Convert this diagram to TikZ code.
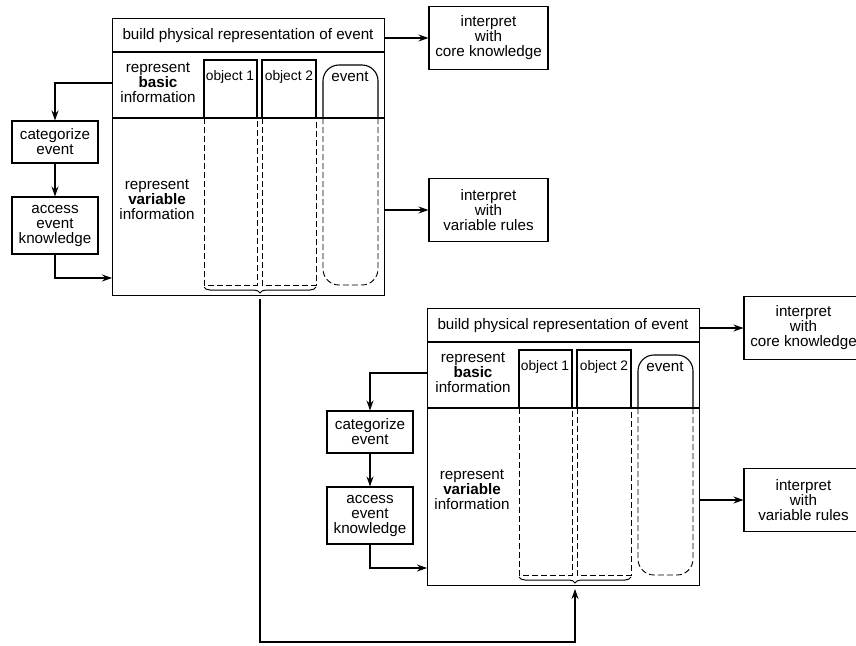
\documentclass[tikz,border=0pt]{standalone}
\usepackage{fontspec}
\setmainfont{Liberation Sans}
\usetikzlibrary{arrows.meta,decorations.pathreplacing}
\tikzset{
	>={Stealth[length=10pt,width=7pt]},
	every node/.style={font=\fontsize{15.2}{15}\selectfont,align=center,inner sep=0pt},
	stepbox/.style={draw,minimum width=86pt},
	rulebox/.style={draw,minimum width=119pt,minimum height=63pt},
	objlabel/.style={font=\fontsize{13.8}{15}\selectfont},
	dashcol/.style={line width=0.9pt,dash pattern=on 6pt off 3pt},
}
\begin{document}
\begin{tikzpicture}[x=1pt,y=-1pt,line width=1.1pt]
	\useasboundingbox (0,0) rectangle (856,645);
	\foreach \b/\dx/\dy in {a/0/0,b/315/290}{
	\begin{scope}[shift={(\dx,\dy)}]
		\node[draw,minimum width=272pt,minimum height=277pt,anchor=north west] (\b-main) at (112,18) {};
		\draw (112,52) -- (384,52);
		\draw (112,118) -- (384,118);
		\node (\b-title) at (248,36) {build physical representation of event};
		\node (\b-basic) at (158,83) {represent\\\textbf{basic}\\information};
		\node (\b-varinfo) at (157,200) {represent\\\textbf{variable}\\information};
		% object columns and event column
		\draw (204,118) -- (204,60) -- (257,60) -- (257,118);
		\draw[dashcol] (204,118) -- (204,285) -- (257,285) -- (257,118);
		\draw (262,118) -- (262,60) -- (316,60) -- (316,118);
		\draw[dashcol] (262,118) -- (262,285) -- (316,285) -- (316,118);
		\draw[rounded corners=16pt] (323,118) -- (323,65) -- (378,65) -- (378,118);
		\draw[dashcol,rounded corners=16pt] (323,118) -- (323,285) -- (378,285) -- (378,118);
		\node[objlabel] (\b-obj1) at (230,77) {object 1};
		\node[objlabel] (\b-obj2) at (289,77) {object 2};
		\node (\b-event) at (350,77) {event};
		\draw[line width=1pt,decorate,decoration={brace,mirror,amplitude=6pt}] (204,287) -- (316,287);
		\coordinate (\b-brace) at (260,299);
		% left steps
		\node[stepbox,minimum height=42pt] (\b-cat) at (55,142) {categorize\\event};
		\node[stepbox,minimum height=57pt] (\b-acc) at (55,225.5) {access\\event\\knowledge};
		\coordinate (\b-in) at (112,278);
		\draw[->] (\b-main.west |- \b-basic) -| (\b-cat);
		\draw[->] (\b-cat) -- (\b-acc);
		\draw[->] (\b-acc) |- (\b-in);
		% right interpretations
		\node[rulebox] (\b-core) at (488.5,38) {interpret\\with\\core knowledge};
		\node[rulebox] (\b-var) at (488.5,210) {interpret\\with\\variable rules};
		\draw[->] (\b-main.east |- \b-core) -- (\b-core);
		\draw[->] (\b-main.east |- \b-var) -- (\b-var);
	\end{scope}}
	\coordinate (low) at (0,642);
	\draw[->] (a-brace) -- (a-brace |- low) -| (b-brace);
\end{tikzpicture}
\end{document}
